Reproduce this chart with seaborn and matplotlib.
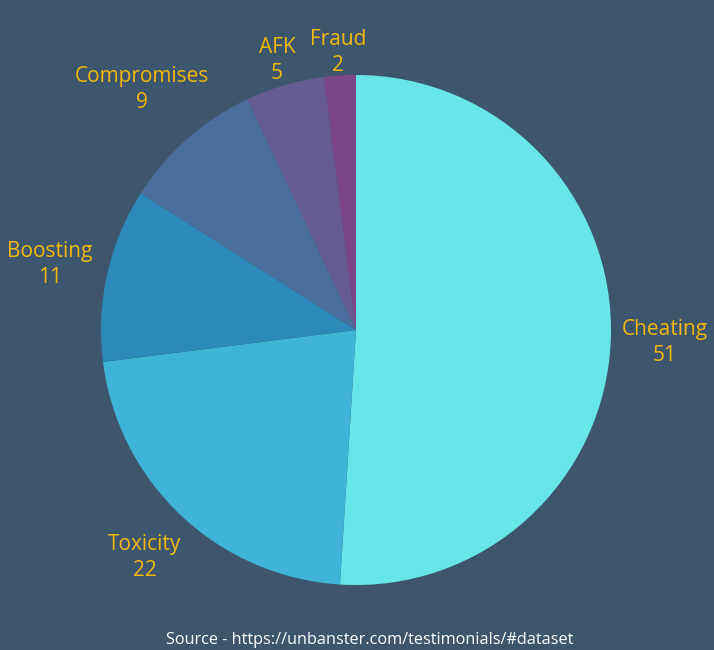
import numpy as np
import matplotlib
matplotlib.use('Agg')
import matplotlib.pyplot as plt
import seaborn as sns

# Dados
categorias = ['Cheating', 'Toxicity', 'Boosting', 'Compromises', 'AFK', 'Fraud']
valores = [51, 22, 11, 9, 5, 2]
cores = ['#67e5e9', '#40b4d6', '#2b8aba', '#4a6f9c', '#675b93', '#7d4689']

bg = '#3d566e'
ouro = '#f2b90c'

sns.set_theme(style='white')
plt.rcParams['font.family'] = ['Open Sans', 'DejaVu Sans']

fig = plt.figure(figsize=(7.14, 6.5), dpi=100, facecolor=bg)
ax = fig.add_axes([0, 0, 1, 1])
ax.set_facecolor(bg)

R = 255.0
cx, cy = 356, 330

rotulos = [f'{c}\n{v}' for c, v in zip(categorias, valores)]
wedges, texts = ax.pie(valores, labels=rotulos, colors=sns.color_palette(cores),
                       startangle=90, counterclock=False, radius=1,
                       labeldistance=1.2, wedgeprops=dict(linewidth=0),
                       textprops=dict(color=ouro, fontsize=15, ha='center', va='center',
                                      linespacing=1.3))

# distancias dos rotulos
dist = [1.21, 1.21, 1.23, 1.27, 1.11, 1.10]
for w, t, d in zip(wedges, texts, dist):
    ang = np.deg2rad((w.theta1 + w.theta2) / 2)
    t.set_position((d * np.cos(ang), d * np.sin(ang) - 0.01))
    t.set_ha('center')
    t.set_va('center')

ax.set_xlim(-cx / R, (714 - cx) / R)
ax.set_ylim(-(650 - cy) / R, cy / R)
ax.axis('off')

fig.text(0.518, 0.003, 'Source - https://unbanster.com/testimonials/#dataset',
         color='white', fontsize=11.7, ha='center', va='bottom')

plt.savefig('out.png', dpi=100, facecolor=bg)
